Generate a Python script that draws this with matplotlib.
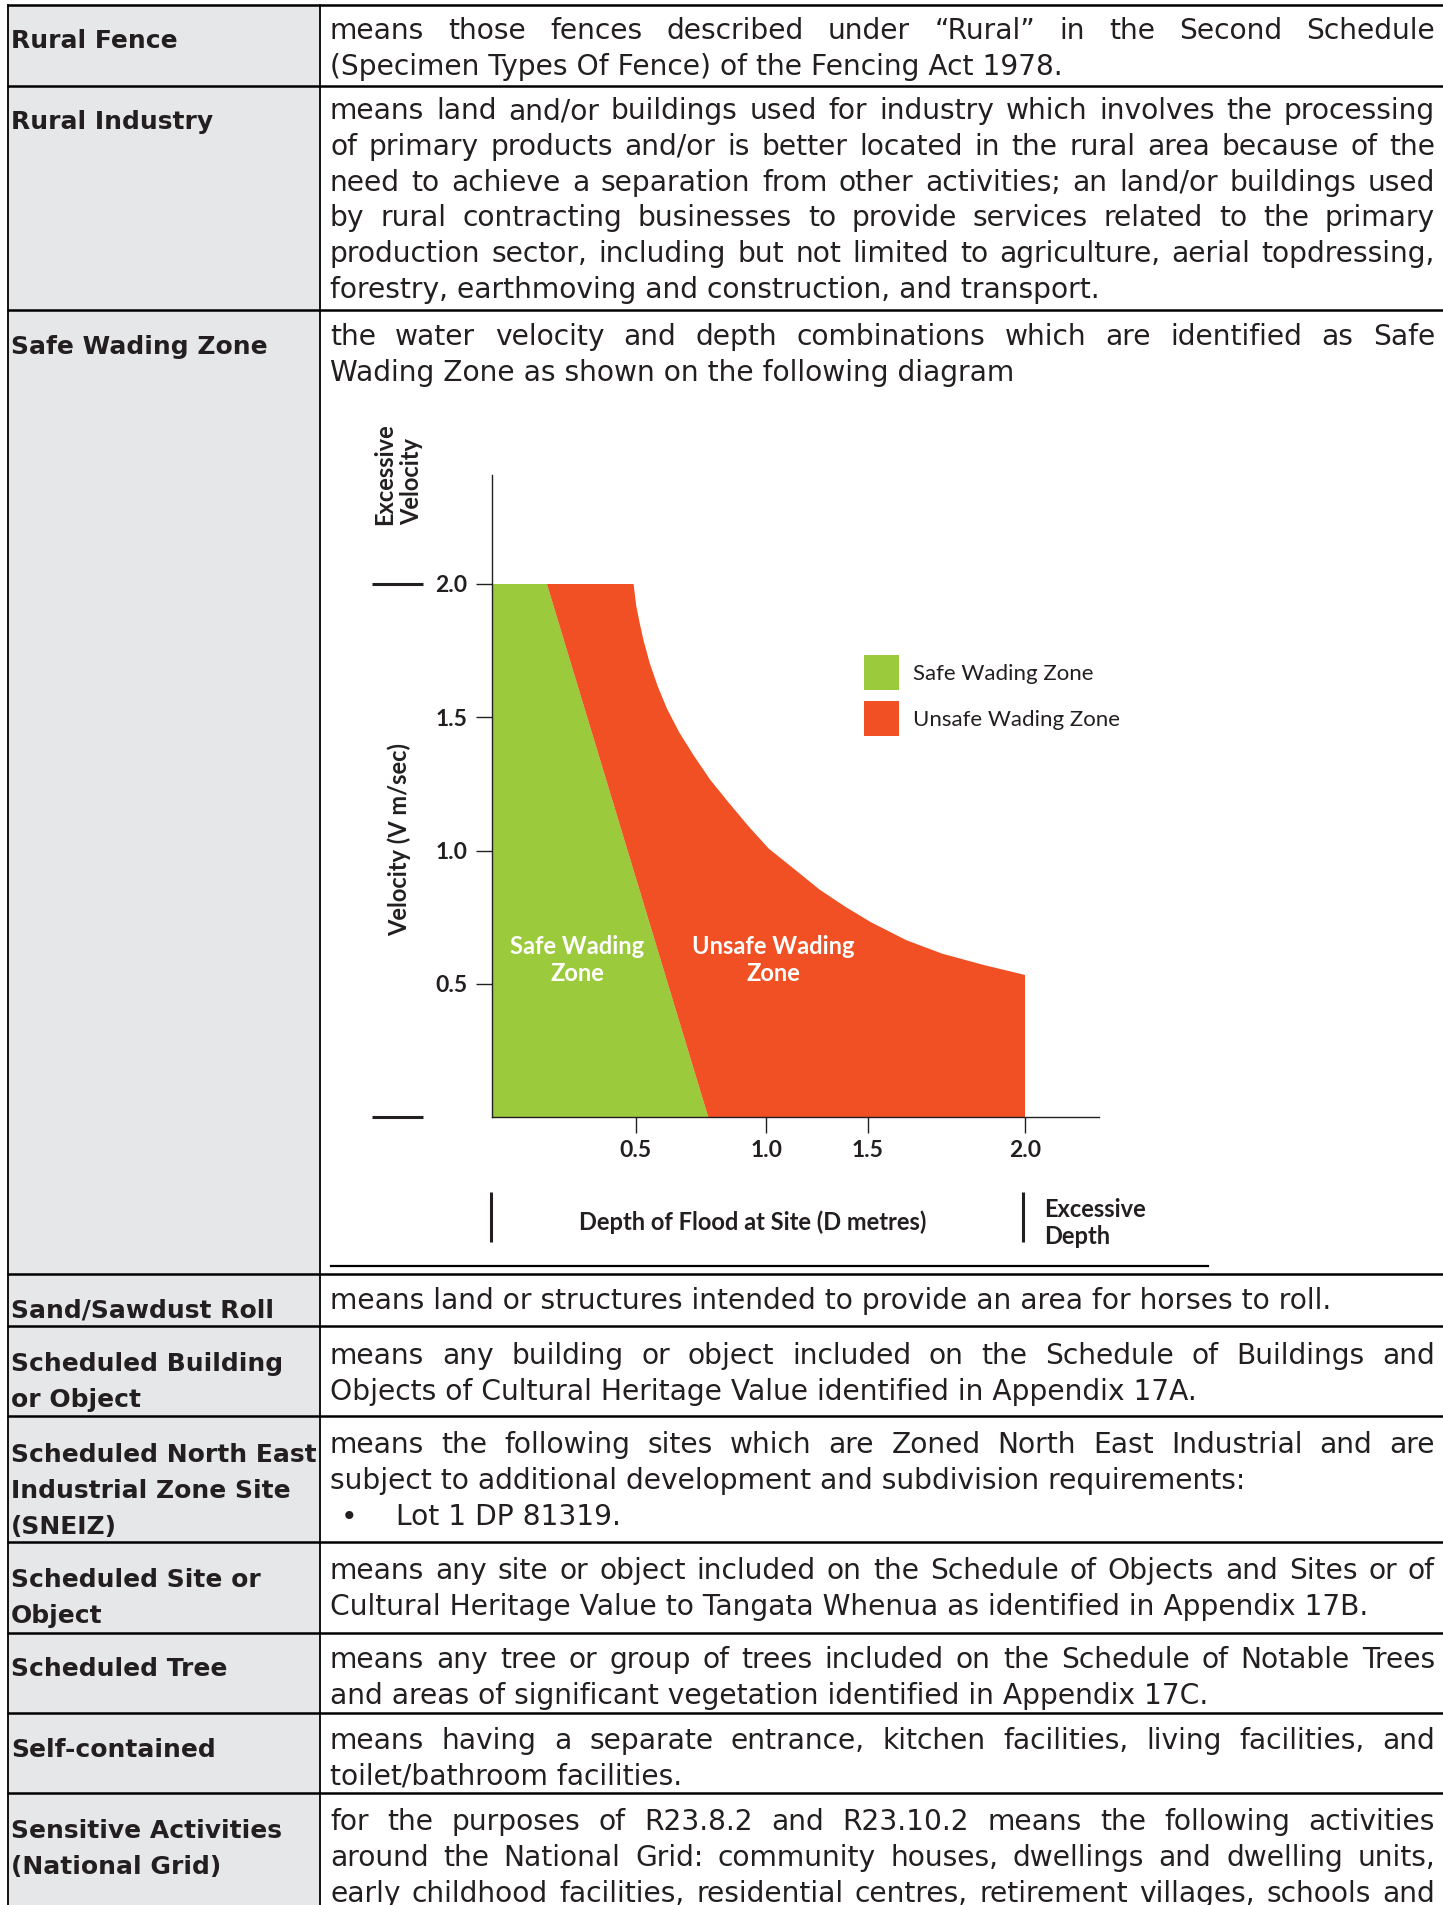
import numpy as np
import matplotlib.pyplot as plt
from matplotlib.patches import Patch

# ---- chart data ----
depth_ticks = [0.54, 1.03, 1.41, 2.0]
depth_tick_labels = ['0.5', '1.0', '1.5', '2.0']
velocity_ticks = [0.5, 1.0, 1.5, 2.0]
velocity_tick_labels = ['0.5', '1.0', '1.5', '2.0']

safe_depth = [0.0, 0.0, 0.207, 0.812]
safe_velocity = [0.0, 2.0, 2.0, 0.0]

# upper boundary of the unsafe zone (curve), read point by point
curve_depth = [0.532, 0.542, 0.555, 0.570, 0.593, 0.622, 0.656, 0.704, 0.756, 0.819,
               0.886, 0.963, 1.039, 1.135, 1.230, 1.326, 1.422, 1.556, 1.689, 1.843, 2.0]
curve_velocity = [2.0, 1.919, 1.853, 1.786, 1.702, 1.618, 1.535, 1.442, 1.359, 1.266,
                  1.183, 1.091, 1.007, 0.930, 0.853, 0.789, 0.731, 0.663, 0.613, 0.571, 0.533]
unsafe_depth = [0.207] + curve_depth + [2.0, 0.812]
unsafe_velocity = [2.0] + curve_velocity + [0.0, 0.0]

# ---- table text ----
terms = [
    ['Rural Fence'],
    ['Rural Industry'],
    ['Safe Wading Zone'],
    ['Sand/Sawdust Roll'],
    ['Scheduled Building', 'or Object'],
    ['Scheduled North East', 'Industrial Zone Site', '(SNEIZ)'],
    ['Scheduled Site or', 'Object'],
    ['Scheduled Tree'],
    ['Self-contained'],
    ['Sensitive Activities', '(National Grid)'],
]
# (text, justified)
definitions = [
    [('means those fences described under \u201cRural\u201d in the Second Schedule', True),
     ('(Specimen Types Of Fence) of the Fencing Act 1978.', False)],
    [('means land and/or buildings used for industry which involves the processing', True),
     ('of primary products and/or is better located in the rural area because of the', True),
     ('need to achieve a separation from other activities; an land/or buildings used', True),
     ('by rural contracting businesses to provide services related to the primary', True),
     ('production sector, including but not limited to agriculture, aerial topdressing,', True),
     ('forestry, earthmoving and construction, and transport.', False)],
    [('the water velocity and depth combinations which are identified as Safe', True),
     ('Wading Zone as shown on the following diagram', False)],
    [('means land or structures intended to provide an area for horses to roll.', False)],
    [('means any building or object included on the Schedule of Buildings and', True),
     ('Objects of Cultural Heritage Value identified in Appendix 17A.', False)],
    [('means the following sites which are Zoned North East Industrial and are', True),
     ('subject to additional development and subdivision requirements:', False),
     ('BULLET Lot 1 DP 81319.', False)],
    [('means any site or object included on the Schedule of Objects and Sites or of', True),
     ('Cultural Heritage Value to Tangata Whenua as identified in Appendix 17B.', False)],
    [('means any tree or group of trees included on the Schedule of Notable Trees', True),
     ('and areas of significant vegetation identified in Appendix 17C.', False)],
    [('means having a separate entrance, kitchen facilities, living facilities, and', True),
     ('toilet/bathroom facilities.', False)],
    [('for the purposes of R23.8.2 and R23.10.2 means the following activities', True),
     ('around the National Grid: community houses, dwellings and dwelling units,', True),
     ('early childhood facilities, residential centres, retirement villages, schools and', True)],
]
row_lines = [5, 86, 310, 1274, 1326, 1416, 1542, 1633, 1713, 1793]
def_baseline = [39, 119, 345, 1309, 1364, 1453, 1579, 1668, 1749, 1830]
term_baseline = [48, 129, 354, 1317, 1371, 1462, 1587, 1676, 1757, 1838]

W, H = 1443, 1905
ink = '#231f20'
green = '#9bca3c'
red = '#f05024'
table_font = 'DejaVu Sans'
chart_font = 'Lato'

fig = plt.figure(figsize=(W / 100, H / 100), dpi=100)
bg = fig.add_axes([0, 0, 1, 1])
bg.set_xlim(0, W)
bg.set_ylim(H, 0)
bg.axis('off')
renderer = fig.canvas.get_renderer()

X0, X1 = 330, 1435
LH = 35.8

# largest size at which every justified line still fits the column
scale = 10.0
for lines in definitions:
    for t, just in lines:
        if just:
            o = bg.text(0, 0, t, family=table_font, size=17.5)
            scale = min(scale, (X1 - X0) / o.get_window_extent(renderer).width)
            o.remove()
table_size = min(20.5, 17.5 * scale * 0.985)

# table frame
bg.fill_between([8, 320], 5, H, color='#e6e7e8', lw=0)
for y in row_lines:
    bg.plot([7, W], [y, y], color='black', lw=1.8, solid_capstyle='butt')
bg.plot([8, 8], [5, H], color='black', lw=1.3)
bg.plot([320, 320], [5, H], color='black', lw=1.3)
bg.plot([331, 1208], [1266, 1266], color='black', lw=1.6)

for i, lines in enumerate(terms):
    for k, t in enumerate(lines):
        bg.text(11, term_baseline[i] + k * 36, t, family=table_font, weight='bold',
                size=18, color=ink, va='baseline')

for i, lines in enumerate(definitions):
    for k, (t, just) in enumerate(lines):
        y = def_baseline[i] + k * LH
        if t.startswith('BULLET'):
            bg.text(341, y, '\u2022', family=table_font, size=table_size, color=ink, va='baseline')
            bg.text(396, y, t[7:], family=table_font, size=table_size, color=ink, va='baseline')
            continue
        if not just:
            bg.text(X0, y, t, family=table_font, size=table_size, color=ink, va='baseline')
            continue
        words = t.split(' ')
        objs = [bg.text(0, y, w, family=table_font, size=table_size, color=ink, va='baseline')
                for w in words]
        widths = [o.get_window_extent(renderer).width for o in objs]
        gap = (X1 - X0 - sum(widths)) / (len(words) - 1)
        x = X0
        for o, w in zip(objs, widths):
            o.set_x(x)
            x += w + gap

# ---- the diagram ----
px_x, px_y = 266.65, 266.5
left, base = 491.7, 1117
xmax, ymax = 2.277, 2.409
ax = fig.add_axes([left / W, (H - base) / H, xmax * px_x / W, ymax * px_y / H])
ax.set_facecolor('none')
ax.fill(safe_depth, safe_velocity, color=green, lw=0, zorder=2)
ax.fill(unsafe_depth, unsafe_velocity, color=red, lw=0, zorder=2)
ax.set_xlim(0, xmax)
ax.set_ylim(0, ymax)
for s in ['top', 'right']:
    ax.spines[s].set_visible(False)
for s in ['left', 'bottom']:
    ax.spines[s].set_color(ink)
    ax.spines[s].set_linewidth(1.0)
    ax.spines[s].set_zorder(3)
ax.set_xticks(depth_ticks, depth_tick_labels)
ax.set_yticks(velocity_ticks, velocity_tick_labels)
ax.tick_params(axis='both', direction='out', length=11.5, width=1.0, color=ink,
               labelsize=16.5, labelcolor=ink)
ax.tick_params(axis='x', pad=5.0)
ax.tick_params(axis='y', pad=6.0)
for lab in ax.get_xticklabels() + ax.get_yticklabels():
    lab.set_family(chart_font)
    lab.set_weight('bold')

ax.text(0.32, 0.589, 'Safe Wading\nZone', ha='center', va='center', color='white',
        family=chart_font, weight='bold', size=17, linespacing=1.25, zorder=4)
ax.text(1.057, 0.589, 'Unsafe Wading\nZone', ha='center', va='center', color='white',
        family=chart_font, weight='bold', size=17, linespacing=1.25, zorder=4)

handles = [Patch(facecolor=green, edgecolor='none', label='Safe Wading Zone'),
           Patch(facecolor=red, edgecolor='none', label='Unsafe Wading Zone')]
leg = ax.legend(handles=handles, loc='upper left', bbox_to_anchor=(864, 655),
                bbox_transform=bg.transData, frameon=False, borderpad=0, borderaxespad=0,
                handlelength=1.575, handleheight=2.05, handletextpad=0.63,
                labelspacing=0.5, prop={'family': chart_font, 'size': 16})
for t in leg.get_texts():
    t.set_color(ink)

# labels around the diagram
bg.text(399, 840, 'Velocity (V m/sec)', rotation=90, ha='center', va='center',
        family=chart_font, weight='bold', size=17, color=ink)
bg.text(398, 525, 'Excessive\nVelocity', rotation=90, rotation_mode='anchor',
        ha='left', va='center', family=chart_font, weight='bold', size=17,
        color=ink, linespacing=1.2)
bg.plot([372, 423], [584, 584], color=ink, lw=2.2, solid_capstyle='butt')
bg.plot([372, 423], [1117, 1117], color=ink, lw=2.2, solid_capstyle='butt')
bg.plot([491, 491], [1192, 1242], color=ink, lw=2.2, solid_capstyle='butt')
bg.plot([1023, 1023], [1192, 1242], color=ink, lw=2.2, solid_capstyle='butt')
bg.text(753, 1222, 'Depth of Flood at Site (D metres)', ha='center', va='center',
        family=chart_font, weight='bold', size=17, color=ink)
bg.text(1044, 1244, 'Excessive\nDepth', ha='left', va='baseline', family=chart_font,
        weight='bold', size=17, color=ink, linespacing=1.2)

fig.savefig('out.png', dpi=100)
